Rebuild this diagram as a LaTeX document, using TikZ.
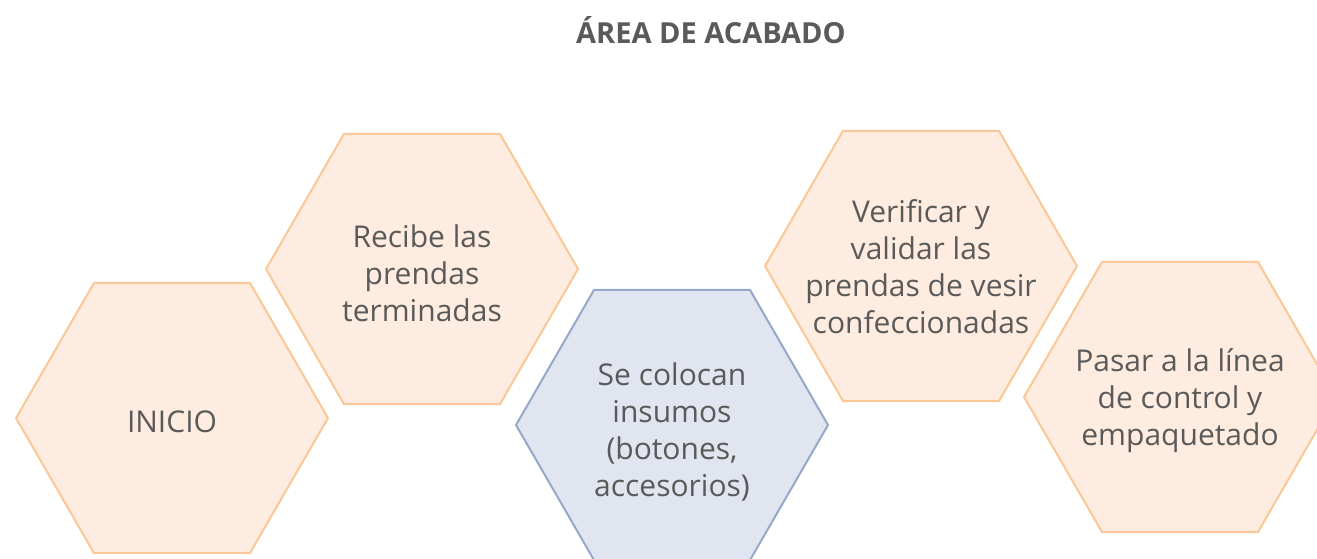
\documentclass[tikz,border=0pt]{standalone}
\usepackage{fontspec}
\setmainfont{Open Sans}
\usetikzlibrary{shapes.geometric}
\definecolor{txtgray}{RGB}{90,90,90}
\definecolor{peachfill}{RGB}{255,236,224}
\definecolor{peachline}{RGB}{250,200,150}
\definecolor{bluefill}{RGB}{224,229,239}
\definecolor{blueline}{RGB}{150,168,200}
\tikzset{
  hexbox/.style={regular polygon,regular polygon sides=6,minimum size=312pt,
    inner sep=0pt,line width=2pt,draw=peachline,fill=peachfill},
  hexblue/.style={hexbox,draw=blueline,fill=bluefill},
  hextext/.style={text=txtgray,align=center,inner sep=0pt,yshift=-4pt,
    font=\fontsize{30}{37}\selectfont}
}
\begin{document}
\begin{tikzpicture}[x=1pt,y=-1pt]
  \useasboundingbox (0,0) rectangle (1317,558);
  \node[font=\fontsize{29}{30}\selectfont\bfseries,text=txtgray] (title) at (711,30) {ÁREA DE ACABADO};
  % hexagons, left to right
  \node[hexbox,label={[hextext]center:INICIO}] (inicio) at (172,418) {};
  \node[hexbox,label={[hextext]center:Recibe las\\prendas\\terminadas}] (recibe) at (422,269) {};
  \node[hexblue,label={[hextext,yshift=-3pt]center:Se colocan\\insumos\\ (botones,\\accesorios)}] (insumos) at (672,425) {};
  \node[hexbox,label={[hextext,yshift=3pt]center:Verificar y\\validar las\\prendas de vesir\\confeccionadas}] (verificar) at (921,266) {};
  \node[hexbox,label={[hextext]center:Pasar a la línea\\de control y\\empaquetado}] (control) at (1180,397) {};
\end{tikzpicture}
\end{document}
